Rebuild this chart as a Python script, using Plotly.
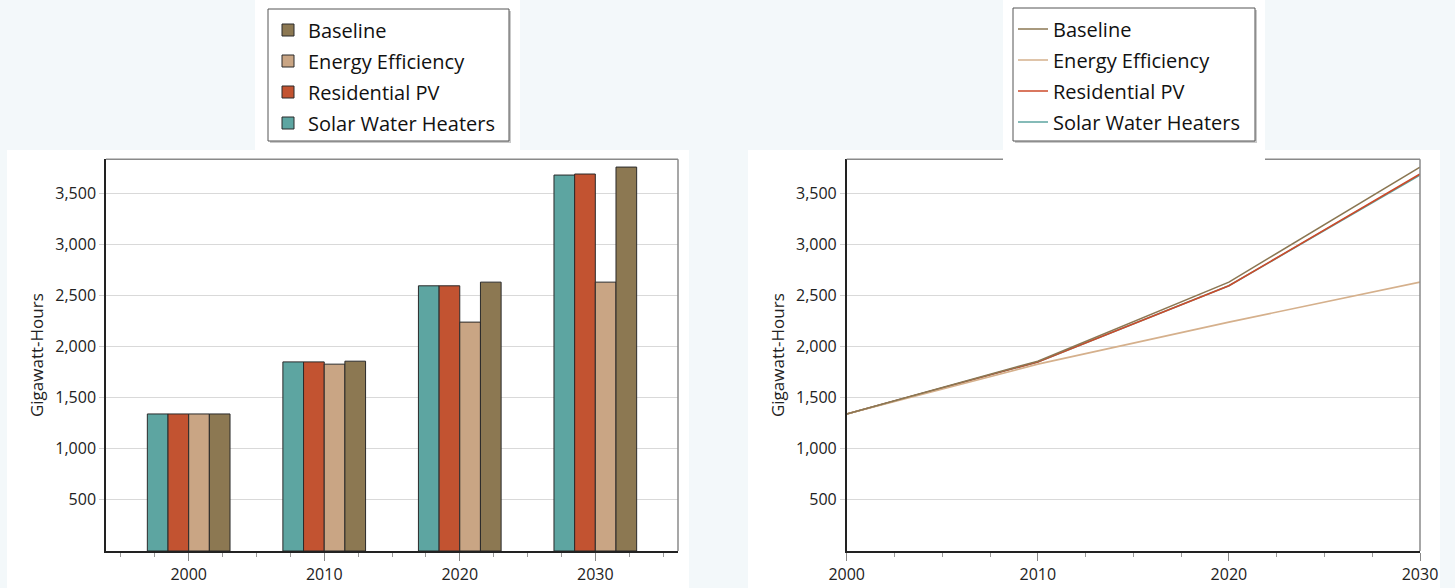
import plotly.graph_objects as go

# ---- data ----
years = [2000, 2010, 2020, 2030]
series_names = ["Solar Water Heaters", "Residential PV", "Energy Efficiency", "Baseline"]
solar_water = [1340, 1849, 2593, 3676]
residential_pv = [1340, 1849, 2593, 3686]
energy_eff = [1340, 1827, 2238, 2629]
baseline = [1340, 1856, 2629, 3754]
y_ticks = [500, 1000, 1500, 2000, 2500, 3000, 3500]
x_ticks = [2000, 2010, 2020, 2030]

values = [solar_water, residential_pv, energy_eff, baseline]
bar_colors = ["#5DA5A1", "#C25331", "#C9A584", "#8C7852"]
line_colors = ["#5DA5A1", "#CC4A2A", "#D5B08C", "#8B7753"]
legend_rank = [4, 3, 2, 1]  # Baseline on top of legend

W, H = 1455, 588
def px(x):
    return x / W
def py(y):
    return 1 - y / H

FONT = "Open Sans"
fig = go.Figure()

# bars (left)
for name, vals, col, rk in zip(series_names, values, bar_colors, legend_rank):
    fig.add_trace(go.Bar(x=years, y=vals, name=name, marker=dict(color=col, line=dict(color="#2a2a2a", width=1)),
                         xaxis="x", yaxis="y", legend="legend", legendgroup="b_" + name, legendrank=rk))
# lines (right)
for name, vals, col, rk in zip(series_names, values, line_colors, legend_rank):
    fig.add_trace(go.Scatter(x=years, y=vals, mode="lines", name=name, line=dict(color=col, width=1.6),
                             xaxis="x2", yaxis="y2", legend="legend2", legendgroup="l_" + name, legendrank=rk))

ydom = [py(551), py(159.3)]
common_y = dict(range=[0, 3830], tickvals=y_ticks, ticktext=[f"{v:,}" for v in y_ticks],
                showgrid=True, gridcolor="#D9D9D9", gridwidth=1, zeroline=False,
                showline=True, linecolor="#222", linewidth=1.5, automargin=False,
                ticks="outside", ticklen=5, tickcolor="#D0D0D0",
                tickfont=dict(family=FONT, size=16, color="#222"),
                title=dict(text="Gigawatt-Hours", font=dict(family=FONT, size=17, color="#222"), standoff=7))
common_x = dict(tickvals=x_ticks, showgrid=False, zeroline=False, automargin=False,
                showline=True, linecolor="#222", linewidth=1.5,
                ticks="outside", ticklen=8, tickcolor="#888",
                minor=dict(dtick=2.5, ticks="outside", ticklen=4, tickcolor="#999", showgrid=False),
                tickfont=dict(family=FONT, size=16, color="#222"))

leg_common = dict(xanchor="left", yanchor="top", bgcolor="rgba(0,0,0,0)",
                  borderwidth=0, font=dict(family=FONT, size=20, color="#111"),
                  traceorder="grouped", tracegroupgap=2)

fig.update_layout(
    width=W, height=H,
    margin=dict(l=0, r=0, t=0, b=0, autoexpand=False),
    paper_bgcolor="#F3F8FA",
    plot_bgcolor="rgba(0,0,0,0)",
    barmode="group", bargap=0.39, bargroupgap=0,
    xaxis=dict(domain=[px(106), px(678)], range=[1993.9, 2036.1], anchor="y", **common_x),
    yaxis=dict(domain=ydom, anchor="x", **common_y),
    xaxis2=dict(domain=[px(846.7), px(1420)], range=[2000, 2030], anchor="y2", **common_x),
    yaxis2=dict(domain=ydom, anchor="x2", **common_y),
    legend=dict(x=px(268), y=py(10.5), **leg_common),
    legend2=dict(x=px(1013), y=py(9.5), **leg_common),
    showlegend=True,
)

def legend_box(x0, x1, y0, y1):
    return [
        dict(type="rect", xref="paper", yref="paper", x0=px(x0 + 2), x1=px(x1 + 2), y0=py(y1 + 2), y1=py(y0 + 2),
             fillcolor="#C9C9C9", line=dict(width=0), layer="below"),
        dict(type="rect", xref="paper", yref="paper", x0=px(x0), x1=px(x1), y0=py(y1), y1=py(y0),
             fillcolor="white", line=dict(color="#555", width=1), layer="below"),
    ]

shapes = [
    # white panels
    dict(type="rect", xref="paper", yref="paper", x0=px(7), x1=px(689), y0=0, y1=py(150),
         fillcolor="white", line=dict(width=0), layer="below"),
    dict(type="rect", xref="paper", yref="paper", x0=px(255), x1=px(520), y0=py(150), y1=1,
         fillcolor="white", line=dict(width=0), layer="below"),
    dict(type="rect", xref="paper", yref="paper", x0=px(748), x1=px(1440), y0=0, y1=py(150),
         fillcolor="white", line=dict(width=0), layer="below"),
    dict(type="rect", xref="paper", yref="paper", x0=px(1003), x1=px(1265), y0=py(162), y1=1,
         fillcolor="white", line=dict(width=0), layer="below"),
    # left chart top/right borders
    dict(type="line", xref="x domain", yref="y domain", x0=0, x1=1, y0=1, y1=1,
         line=dict(color="#8a8a8a", width=1.5), layer="above"),
    dict(type="line", xref="x domain", yref="y domain", x0=1, x1=1, y0=0, y1=1,
         line=dict(color="#8a8a8a", width=1.5), layer="above"),
    # right chart top border segments (interrupted behind legend area) and right border
    dict(type="line", xref="paper", yref="y2 domain", x0=px(846.7), x1=px(1003), y0=1, y1=1,
         line=dict(color="#8a8a8a", width=1.5), layer="above"),
    dict(type="line", xref="paper", yref="y2 domain", x0=px(1265), x1=px(1420), y0=1, y1=1,
         line=dict(color="#8a8a8a", width=1.5), layer="above"),
    dict(type="line", xref="x2 domain", yref="y2 domain", x0=1, x1=1, y0=0, y1=1,
         line=dict(color="#8a8a8a", width=1.5), layer="above"),
]
shapes += legend_box(268, 509, 9, 141)
shapes += legend_box(1013, 1255, 8, 141)
fig.update_layout(shapes=shapes)

fig.write_html("out.html", config={"displayModeBar": False},
               post_script="document.body.style.margin='0';document.body.style.overflow='hidden';")
